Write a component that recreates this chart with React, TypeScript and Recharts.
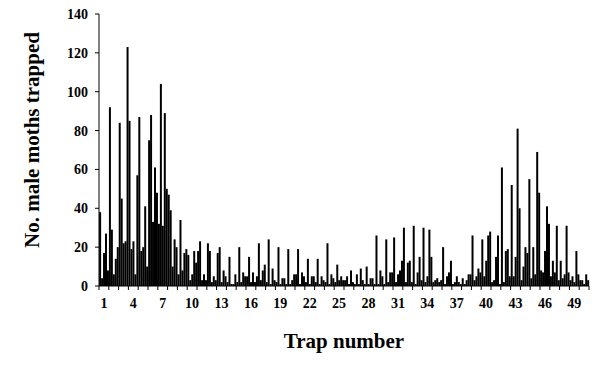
import { BarChart, Bar, XAxis, YAxis, Label } from 'recharts';

// trap numbers along the transect
const traps = Array.from({ length: 50 }, (_, i) => i + 1);

// catches per trap, one array per sampling occasion (5 bars per trap)
const sample1 = [38, 92, 84, 85, 87, 75, 32, 47, 6, 16, 18, 22, 17, 2, 2, 5, 5, 2, 2, 1, 6, 2, 2, 2, 2, 3, 1, 1, 1, 1, 25, 30, 31, 30, 2, 20, 1, 4, 26, 24, 2, 61, 52, 3, 4, 8, 5, 13, 3, 3];
const sample2 = [4, 29, 45, 19, 18, 88, 104, 39, 34, 3, 23, 18, 20, 15, 20, 15, 22, 24, 20, 19, 19, 14, 14, 22, 11, 5, 6, 10, 26, 24, 2, 2, 1, 2, 3, 1, 2, 1, 3, 5, 3, 2, 5, 10, 20, 7, 13, 4, 5, 3];
const sample3 = [17, 6, 22, 23, 20, 33, 31, 10, 8, 6, 3, 2, 2, 1, 2, 2, 3, 1, 1, 1, 1, 1, 1, 1, 3, 1, 1, 1, 1, 2, 6, 12, 7, 5, 4, 5, 5, 3, 5, 13, 15, 18, 15, 20, 6, 18, 7, 6, 2, 1];
const sample4 = [27, 14, 23, 6, 41, 61, 89, 24, 17, 18, 6, 5, 8, 1, 7, 7, 8, 9, 4, 3, 7, 5, 5, 6, 5, 8, 9, 4, 8, 7, 8, 13, 15, 29, 2, 7, 2, 6, 9, 26, 26, 19, 81, 17, 69, 41, 31, 31, 18, 6];
const sample5 = [8, 20, 123, 57, 10, 48, 50, 20, 19, 12, 3, 3, 5, 6, 5, 2, 11, 3, 4, 6, 5, 5, 3, 4, 3, 2, 3, 4, 5, 7, 13, 2, 3, 15, 3, 13, 1, 6, 7, 28, 1, 5, 40, 55, 48, 32, 3, 7, 6, 3];

const trapLabels = [1, 4, 7, 10, 13, 16, 19, 22, 25, 28, 31, 34, 37, 40, 43, 46, 49];
const yTicks = [0, 20, 40, 60, 80, 100, 120, 140];

const samples = [sample1, sample2, sample3, sample4, sample5];

const rows = traps.flatMap((trap, t) =>
  samples.map((s, j) => ({ id: `${trap}-${j + 1}`, trap, sample: j, moths: s[t] }))
);

const serif = '"Liberation Serif", "Times New Roman", serif';

function TrapTick(props: any) {
  const { x, y, index, payload } = props;
  const row = rows[index];
  if (!row) return null;
  const half = payload && payload.offset ? payload.offset : 0.98;
  const showLabel = row.sample === 2 && trapLabels.includes(row.trap);
  return (
    <g>
      {row.sample === 0 && (
        <line x1={x - half} x2={x - half} y1={y} y2={y + 4} stroke="#000" />
      )}
      {index === rows.length - 1 && (
        <line x1={x + half} x2={x + half} y1={y} y2={y + 4} stroke="#000" />
      )}
      {showLabel && (
        <text x={x} y={y + 22} textAnchor="middle" fontFamily={serif} fontWeight="bold" fontSize={14} fill="#000">
          {row.trap}
        </text>
      )}
    </g>
  );
}

export default function App() {
  return (
    <div style={{ position: 'absolute', left: 0, top: 0, width: 595, height: 382, background: '#fff' }}>
      <BarChart
        width={595}
        height={382}
        data={rows}
        margin={{ top: 14, right: 6, bottom: 66, left: 39 }}
        barCategoryGap="6%"
      >
        <XAxis
          dataKey="id"
          interval={0}
          height={30}
          tickSize={0}
          tickMargin={0}
          tickLine={false}
          stroke="#000"
          tick={<TrapTick />}
        >
          <Label
            content={({ viewBox }: any) => (
              <text
                x={viewBox.x + viewBox.width / 2}
                y={viewBox.y + 62}
                textAnchor="middle"
                fontFamily={serif}
                fontWeight="bold"
                fontSize={21}
                fill="#000"
              >
                Trap number
              </text>
            )}
          />
        </XAxis>
        <YAxis
          width={60}
          domain={[0, 140]}
          ticks={yTicks}
          interval={0}
          tickSize={4}
          tickMargin={7}
          stroke="#000"
          tick={{ fill: '#000', fontFamily: serif, fontWeight: 'bold', fontSize: 14 }}
        >
          <Label
            content={({ viewBox }: any) => {
              const cx = viewBox.x;
              const cy = viewBox.y + viewBox.height / 2 - 10;
              return (
                <text
                  x={cx}
                  y={cy}
                  transform={`rotate(-90 ${cx} ${cy})`}
                  textAnchor="middle"
                  fontFamily={serif}
                  fontWeight="bold"
                  fontSize={21}
                  fill="#000"
                >
                  No. male moths trapped
                </text>
              );
            }}
          />
        </YAxis>
        <Bar dataKey="moths" fill="#000" isAnimationActive={false} />
      </BarChart>
    </div>
  );
}
